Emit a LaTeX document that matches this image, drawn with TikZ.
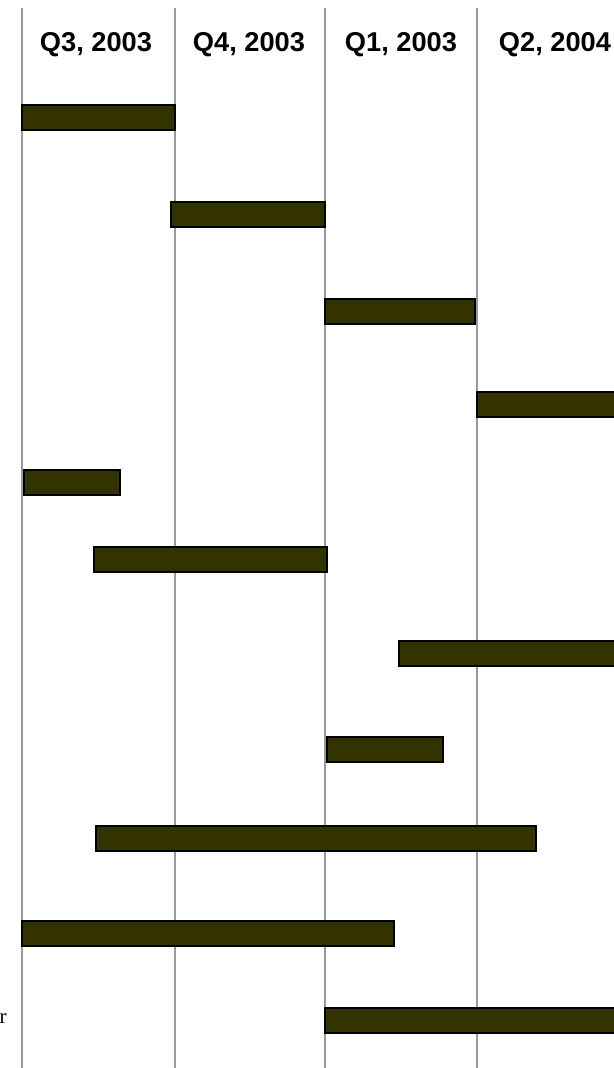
\documentclass[tikz,border=0pt]{standalone}
\usepackage{fontspec}
\setsansfont{Liberation Sans}
\newfontfamily\serifr{Liberation Serif}
\usetikzlibrary{positioning}
\definecolor{barfill}{HTML}{333300}
\definecolor{gridgray}{HTML}{999999}
\tikzset{
  % linea che separa i trimestri
  quarterline/.style={draw=gridgray, line width=0.7pt},
  % barra di un'attivita'
  taskbar/.style={draw=black, line width=1.1pt, fill=barfill},
  % intestazione di un trimestre
  qhead/.style={font=\fontsize{15.5}{18}\selectfont\bfseries\sffamily, inner sep=0pt},
}

\begin{document}
\begin{tikzpicture}[x=0.02cm, y=-0.02cm]
  \useasboundingbox (0,0) rectangle (614,1068);
  \clip (0,0) rectangle (614,1068);
  % linee verticali dei trimestri
  \foreach \x [count=\i] in {22,175,325,477}
    \draw[quarterline] (\x,8) coordinate (top\i) -- (\x,1068) coordinate (bot\i);
  % intestazioni
  \foreach \x/\t [count=\i] in {96/{Q3, 2003}, 249/{Q4, 2003}, 401/{Q1, 2003}, 555/{Q2, 2004}}
    \node[qhead] (head\i) at (\x,45) {\t};
  % barre delle attivita' (y in alto / inizio / fine)
  \foreach \y/\a/\b [count=\i] in {105/22/175, 202/171/325, 299/325/475, 392/477/620,
      470/24/120, 547/94/327, 641/399/620, 737/327/443, 826/96/536, 921/22/394, 1008/325/620}
    \draw[taskbar] (\a,\y) rectangle (\b,\y+25);
  % testo tagliato a sinistra
  \node[font=\serifr\fontsize{12}{14}\selectfont, anchor=base east, inner sep=0pt] (cutlbl) at (7,1023) {r};
\end{tikzpicture}
\end{document}
